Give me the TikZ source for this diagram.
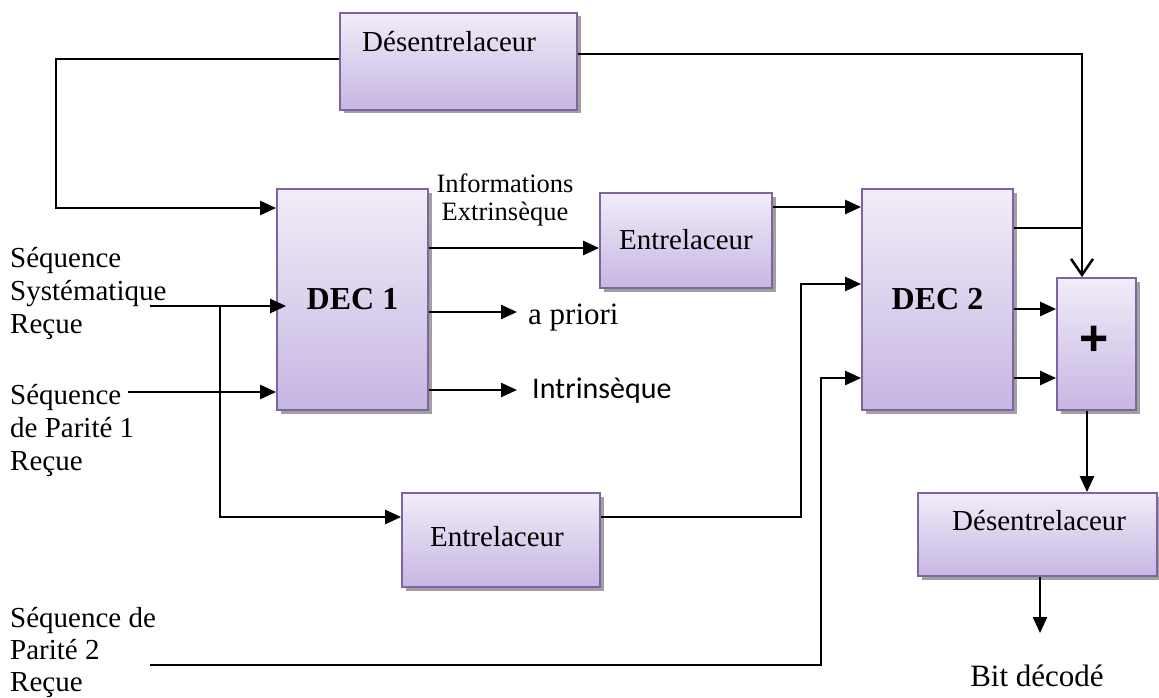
\documentclass[tikz,border=0pt]{standalone}
\usepackage{fontspec}
\setmainfont{Liberation Serif}
\newfontfamily\calibrifont{Carlito}
\newfontfamily\arialfont{Liberation Sans}
\usetikzlibrary{arrows.meta,calc}

\definecolor{boxline}{RGB}{128,100,162}
\definecolor{boxtop}{RGB}{241,237,248}
\definecolor{boxbot}{RGB}{198,182,227}
\definecolor{shadowgray}{RGB}{160,160,160}

\tikzset{
  block/.style={rectangle, inner sep=0pt, draw=boxline, line width=1.8pt,
    top color=boxtop, bottom color=boxbot,
    preaction={fill=shadowgray, transform canvas={shift={(3.5pt,-3.5pt)}}}},
  wire/.style={line width=2.5pt},
  arr/.style={wire, -{Triangle[length=16pt,width=14pt]}},
  openarr/.style={wire, -{Straight Barb[length=16pt,width=22pt]}},
  lbl/.style={inner sep=0pt, align=left, font=\fontsize{29}{33}\selectfont},
  boxtxt/.style={inner sep=0pt, font=\fontsize{29}{34}\selectfont},
  dectxt/.style={inner sep=0pt, font=\fontsize{32}{34}\selectfont\bfseries},
}

\begin{document}
\begin{tikzpicture}[x=1pt,y=-1pt]
\useasboundingbox (0,0) rectangle (1159,698);

% processing blocks
\node[block, minimum width=237, minimum height=97]  (desTop)  at (458.5,61.5) {};
\node[block, minimum width=151, minimum height=221] (dec1)    at (352.5,299.5) {};
\node[block, minimum width=172, minimum height=95]  (entrMid) at (686,240.5) {};
\node[block, minimum width=151, minimum height=221] (dec2)    at (937.5,299.5) {};
\node[block, minimum width=79,  minimum height=132] (plus)    at (1096.5,344) {};
\node[block, minimum width=198, minimum height=94]  (entrBot) at (501,540) {};
\node[block, minimum width=239, minimum height=83]  (desBot)  at (1037.5,534.5) {};

% block captions
\node[boxtxt, anchor=base west] (desTopTxt)  at (362,52)  {Désentrelaceur};
\node[dectxt]                   (dec1Txt)    at (352.5,299) {DEC 1};
\node[boxtxt]                   (entrMidTxt) at (686,240) {Entrelaceur};
\node[dectxt]                   (dec2Txt)    at (937.5,299) {DEC 2};
\node[inner sep=0pt, font=\fontsize{50}{50}\selectfont\arialfont\bfseries] (plusTxt) at (1094,341) {+};
\node[boxtxt]                   (entrBotTxt) at (497,537) {Entrelaceur};
\node[boxtxt, anchor=base west] (desBotTxt)  at (952,530) {Désentrelaceur};

% input and output labels (anchored on the baseline of the last line)
\node[lbl, anchor=base west] (sysLbl) at (10,333) {Séquence\\Systématique\\Reçue};
\node[lbl, anchor=base west] (p1Lbl)  at (10,470) {Séquence\\de Parité 1\\Reçue};
\node[lbl, anchor=base west, font=\fontsize{29}{32}\selectfont] (p2Lbl) at (10,691) {Séquence de\\Parité 2\\Reçue};
\node[inner sep=0pt, align=center, anchor=base, font=\fontsize{26.5}{28}\selectfont] (extLbl) at (505,220) {Informations\\Extrinsèque};
\node[inner sep=0pt, anchor=base west, font=\fontsize{31}{34}\selectfont] (aprLbl) at (528,324) {a priori};
\node[inner sep=0pt, anchor=base west, font=\fontsize{30}{34}\selectfont\calibrifont] (intLbl) at (532,398) {Intrinsèque};
\node[inner sep=0pt, anchor=base, font=\fontsize{31}{34}\selectfont] (bitLbl) at (1037,686) {Bit décodé};

% routing points
\coordinate (loopTL) at (56,59);
\coordinate (loopBL) at (56,208);
\coordinate (topR)   at (1082,54);
\coordinate (dec2J)  at (1082,228);
\coordinate (sysIn)  at (150,306);
\coordinate (sysBr)  at (220,306);
\coordinate (brBot)  at (220,517);
\coordinate (p1In)   at (128,392);
\coordinate (extY)   at (0,248);
\coordinate (aprTip) at (517,312);
\coordinate (intTip) at (517,390);
\coordinate (midY)   at (0,207);
\coordinate (botA)   at (801,517);
\coordinate (botB)   at (801,284);
\coordinate (p2In)   at (150,665);
\coordinate (p2C)    at (821,665);
\coordinate (p2U)    at (821,378);
\coordinate (sumA)   at (0,309);
\coordinate (sumB)   at (0,378);
\coordinate (plusX)  at (1087,0);
\coordinate (bitTip) at (1040,633);

% feedback from the top deinterleaver
\draw[arr] (desTop.west |- loopTL) -- (loopTL) -- (loopBL) -- (loopBL -| dec1.west);
\draw[openarr] (desTop.east |- topR) -- (topR) -- (topR |- plus.north);
\draw[wire] (dec2J -| dec2.east) -- (dec2J);

% received sequences
\draw[arr] (sysIn) -- ($(sysIn -| dec1.west)+(10,0)$);
\draw[arr] (sysBr) -- (brBot) -- (brBot -| entrBot.west);
\draw[arr] (p1In) -- (p1In -| dec1.west);
\draw[arr] (p2In) -- (p2C) -- (p2U) -- (p2U -| dec2.west);

% DEC 1 outputs
\draw[arr] (extY -| dec1.east) -- (extY -| entrMid.west);
\draw[arr] (aprTip -| dec1.east) -- (aprTip);
\draw[arr] (intTip -| dec1.east) -- (intTip);

% interleavers into DEC 2
\draw[arr] (midY -| entrMid.east) -- (midY -| dec2.west);
\draw[arr] (botA -| entrBot.east) -- (botA) -- (botB) -- (botB -| dec2.west);

% DEC 2 into the adder, then output chain
\draw[arr] (sumA -| dec2.east) -- (sumA -| plus.west);
\draw[arr] (sumB -| dec2.east) -- (sumB -| plus.west);
\draw[arr] (plusX |- plus.south) -- (plusX |- desBot.north);
\draw[arr] (bitTip |- desBot.south) -- (bitTip);
\end{tikzpicture}
\end{document}
